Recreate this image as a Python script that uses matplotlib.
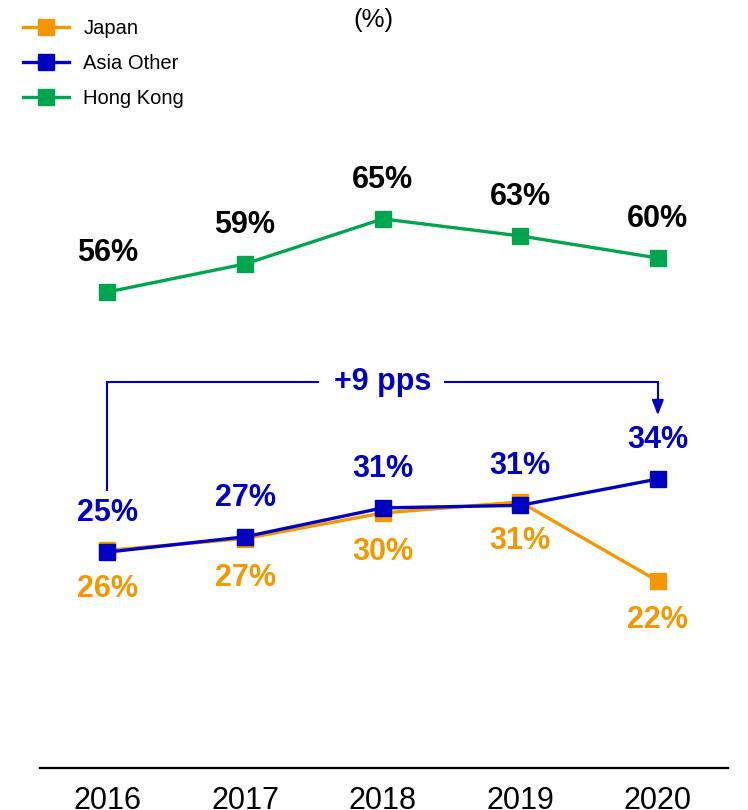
import matplotlib
matplotlib.use("Agg")
import matplotlib.pyplot as plt
from matplotlib.lines import Line2D

plt.rcParams['font.family'] = ['Liberation Sans', 'DejaVu Sans']

years = ["2016", "2017", "2018", "2019", "2020"]
japan = [25.6, 27.0, 30.0, 31.3, 22.0]
asia_other = [25.4, 27.2, 30.6, 30.9, 34.0]
hong_kong = [56.0, 59.3, 64.6, 62.6, 60.0]
japan_labels = ["26%", "27%", "30%", "31%", "22%"]
asia_labels = ["25%", "27%", "31%", "31%", "34%"]
hk_labels = ["56%", "59%", "65%", "63%", "60%"]
change_label = "+9 pps"

c_japan = "#F39800"
c_asia = "#0000C0"
c_hk = "#00A550"

W, H = 748, 810
fig = plt.figure(figsize=(W / 100, H / 100), dpi=100)
ax = fig.add_axes([40 / W, 1 - 768 / H, 688 / W, 680 / H])
x = list(range(len(years)))

ms = 11.5
lw = 2.4
ax.plot(x, hong_kong, color=c_hk, lw=lw, marker='s', ms=ms, zorder=3)
ax.plot(x, japan, color=c_japan, lw=lw, marker='s', ms=ms, zorder=3)
ax.plot(x, asia_other, color=c_asia, lw=lw, marker='s', ms=ms, zorder=4)

fs = 22
for xi, v, t in zip(x, hong_kong, hk_labels):
    ax.annotate(t, (xi, v), xytext=(0, 39), textcoords='offset pixels',
                ha='center', va='center', fontsize=fs, fontweight='bold', color='black')
for xi, v, t in zip(x, asia_other, asia_labels):
    ax.annotate(t, (xi, v), xytext=(0, 39), textcoords='offset pixels',
                ha='center', va='center', fontsize=fs, fontweight='bold', color=c_asia)
for xi, v, t in zip(x, japan, japan_labels):
    ax.annotate(t, (xi, v), xytext=(0, -39), textcoords='offset pixels',
                ha='center', va='center', fontsize=fs, fontweight='bold', color=c_japan)

# bracket annotation
by = 45.4
ax.plot([0, 0, 1.53], [32.7, by, by], color=c_asia, lw=1.5, solid_joinstyle='miter', zorder=2)
ax.plot([2.45, 4, 4], [by, by, 43.2], color=c_asia, lw=1.5, solid_joinstyle='miter', zorder=2)
ax.annotate("", xy=(4, 41.5), xytext=(4, 43.5),
            arrowprops=dict(arrowstyle='-|>,head_length=0.9,head_width=0.35',
                            color=c_asia, lw=1.5, shrinkA=0, shrinkB=0))
ax.text(2.0, by, change_label, ha='center', va='center', fontsize=fs,
        fontweight='bold', color=c_asia)

ax.set_xlim(-0.49, 4.51)
ax.set_ylim(0, 80)
ax.set_xticks(x)
ax.set_xticklabels(years, fontsize=22)
ax.tick_params(axis='x', length=0, pad=13)
ax.set_yticks([])
for s in ['top', 'right', 'left']:
    ax.spines[s].set_visible(False)
ax.spines['bottom'].set_linewidth(1.6)
ax.spines['bottom'].set_color('black')
ax.patch.set_alpha(0)

fig.text(373 / W, 1 - 20 / H, "(%)", ha='center', va='center', fontsize=18.5)

handles = [Line2D([], [], color=c, lw=lw, marker='s', ms=ms) for c in (c_japan, c_asia, c_hk)]
fig.legend(handles, ["Japan", "Asia Other", "Hong Kong"], loc='upper left',
           bbox_to_anchor=(23 / W, 1 - 19 / H), frameon=False, fontsize=14.5,
           handlelength=2.3, handletextpad=0.7, labelspacing=0.8, borderaxespad=0,
           borderpad=0)

fig.savefig("out.png", dpi=100)
